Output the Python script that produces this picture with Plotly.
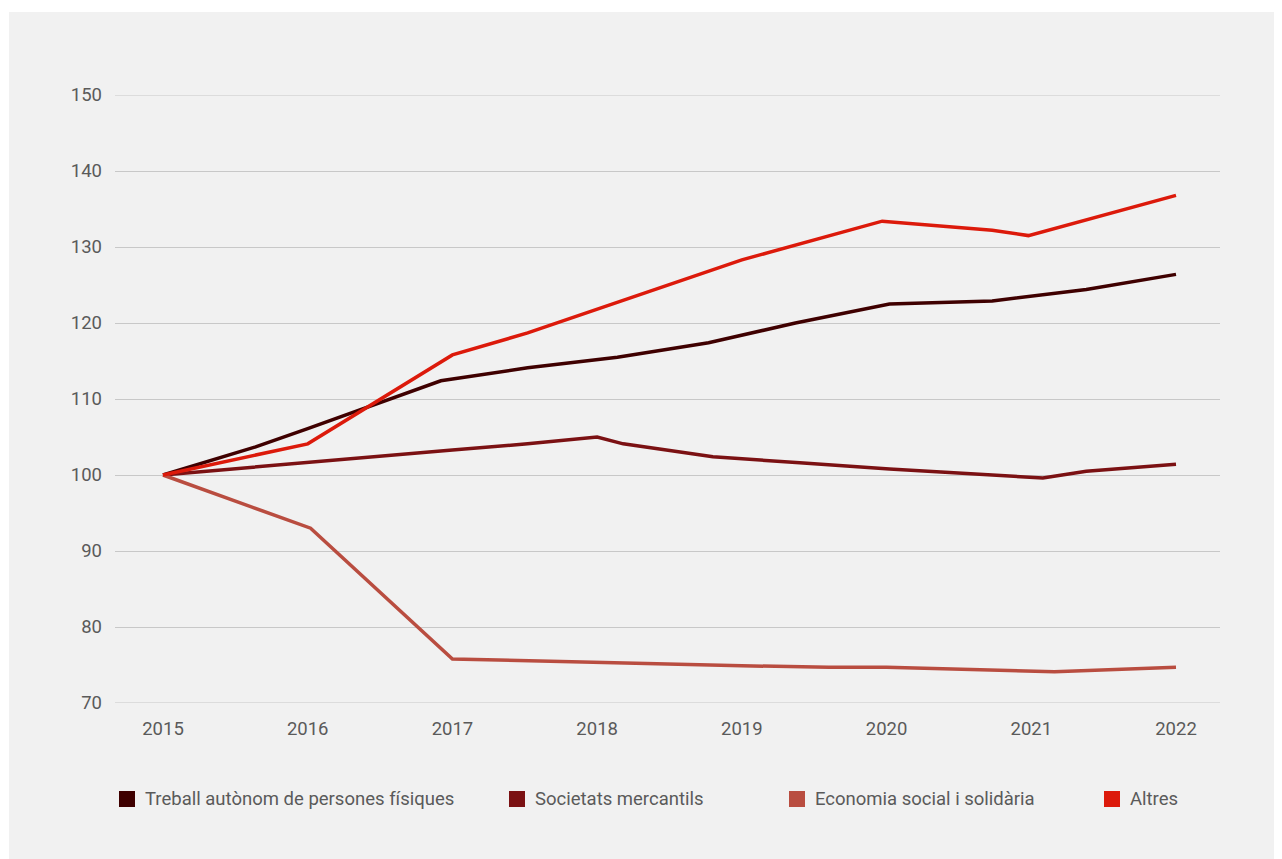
import plotly.graph_objects as go

series_names = ["Treball autònom de persones físiques", "Societats mercantils",
                "Economia social i solidària", "Altres"]
colors = ["#3f0000", "#7b1113", "#b94d40", "#dc1a0b"]

treball_x = [2015.0, 2015.64, 2016.0, 2016.92, 2017.52, 2018.14, 2018.77, 2019.37, 2020.02, 2020.73, 2021.38, 2022.0]
treball_y = [100.0, 103.7, 106.1, 112.4, 114.1, 115.5, 117.4, 120.0, 122.5, 122.9, 124.4, 126.4]

soc_x = [2015.0, 2016.0, 2017.0, 2017.52, 2018.0, 2018.18, 2018.8, 2019.4, 2020.02, 2021.08, 2021.38, 2022.0]
soc_y = [100.0, 101.7, 103.3, 104.1, 105.0, 104.1, 102.4, 101.6, 100.8, 99.6, 100.5, 101.4]

eco_x = [2015.0, 2016.02, 2017.0, 2018.0, 2019.0, 2019.6, 2020.0, 2021.16, 2022.0]
eco_y = [100.0, 93.0, 75.8, 75.3, 74.9, 74.7, 74.7, 74.1, 74.7]

altres_x = [2015.0, 2016.0, 2017.0, 2017.52, 2019.0, 2019.97, 2020.73, 2020.98, 2022.0]
altres_y = [100.0, 104.1, 115.8, 118.7, 128.3, 133.4, 132.2, 131.5, 136.8]

xs = [treball_x, soc_x, eco_x, altres_x]
ys = [treball_y, soc_y, eco_y, altres_y]

years = [2015, 2016, 2017, 2018, 2019, 2020, 2021, 2022]
yticks = [70, 80, 90, 100, 110, 120, 130, 140, 150]

OFF = 8  # page body margin
W, H = 1282 - OFF, 859 - OFF
ml, mr, mt, mb = 115 - OFF, 62, 95 - OFF, 156
pw, ph = W - ml - mr, H - mt - mb

def px2x(p):
    return (p - OFF - ml) / pw

def py2y(p):
    return (H - mb - (p - OFF)) / ph

fig = go.Figure()
for name, c, x, y in zip(series_names, colors, xs, ys):
    fig.add_trace(go.Scatter(x=x, y=y, mode="lines", name=name,
                             line=dict(color=c, width=3.5), showlegend=False))

shapes = [dict(type="rect", xref="paper", yref="paper", layer="below",
               x0=px2x(9), x1=px2x(1282 + 30), y0=py2y(859 + 30), y1=py2y(12),
               fillcolor="#f1f1f1", line=dict(width=0))]
# edge gridlines (plotly hides those lying on the plot-area border)
for v in (yticks[0], yticks[-1]):
    shapes.append(dict(type="line", xref="paper", yref="y", layer="below",
                       x0=0, x1=1, y0=v, y1=v, line=dict(color="#c8c8c8", width=1.2)))
annotations = []
leg_x = [119, 509, 789, 1104]
for name, c, lx in zip(series_names, colors, leg_x):
    shapes.append(dict(type="rect", xref="paper", yref="paper",
                       x0=px2x(lx), x1=px2x(lx + 16), y0=py2y(807), y1=py2y(791),
                       fillcolor=c, line=dict(width=0)))
    annotations.append(dict(xref="paper", yref="paper", x=px2x(lx + 24), y=py2y(799),
                            text=name, showarrow=False, xanchor="left", yanchor="middle",
                            font=dict(family="Roboto", size=18.5, color="#5a5a5a")))

fig.update_layout(
    width=W, height=H,
    margin=dict(l=ml, r=mr, t=mt, b=mb),
    paper_bgcolor="white", plot_bgcolor="#f1f1f1",
    font=dict(family="Roboto", size=18.5, color="#5a5a5a"),
    shapes=shapes, annotations=annotations,
    xaxis=dict(range=[2015 - 48 / 144.71, 2022 + 44 / 144.71], tickvals=years,
               ticktext=[str(v) for v in years], showgrid=False, zeroline=False,
               showline=False, ticks="", ticklabelstandoff=12),
    yaxis=dict(range=[70, 150], tickvals=yticks, showgrid=True, gridcolor="#c8c8c8",
               gridwidth=1.2, zeroline=False, showline=False, ticks="", ticklabelstandoff=12),
)

fig.write_html("out.html")
